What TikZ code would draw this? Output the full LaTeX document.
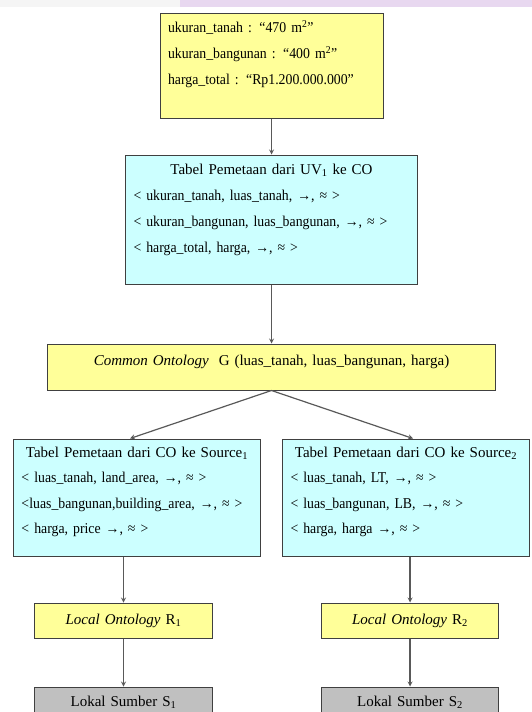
\documentclass[tikz,border=0pt]{standalone}
\usepackage{fontspec}
\setmainfont{Liberation Serif}
\newfontfamily\sempit[FakeStretch=0.92]{Liberation Serif}
\usetikzlibrary{positioning}

\definecolor{boxyellow}{HTML}{FFFF99}
\definecolor{boxcyan}{HTML}{CCFFFF}
\definecolor{boxgrey}{HTML}{C0C0C0}
\definecolor{boxline}{HTML}{404040}
\definecolor{bandlilac}{HTML}{E8D8F0}

\begin{document}
\begin{tikzpicture}[x=1bp, y=1bp, >=stealth,
  every node/.style={draw=boxline, line width=1bp, rectangle, inner xsep=8bp, inner ysep=0bp,
    font=\fontsize{15bp}{26bp}\selectfont},
  databox/.style={fill=boxyellow, text width=207bp, align=left, text height=19bp, text depth=85bp},
  uvbox/.style={fill=boxcyan, text width=276bp, align=left, text height=19bp, text depth=110bp},
  cobox/.style={fill=boxyellow, text width=431bp, align=center, text height=21bp, text depth=25bp},
  srcbox/.style={fill=boxcyan, text width=231bp, align=left, text height=18bp, text depth=99bp,
    font=\fontsize{15bp}{25.5bp}\selectfont},
  ontobox/.style={fill=boxyellow, text width=161bp, align=center, text height=21bp, text depth=14bp},
  sumberbox/.style={fill=boxgrey, text width=161bp, align=center, text height=19bp, text depth=26bp},
  panah/.style={->, draw=black!65, line width=1.2bp}]

  \useasboundingbox (0,0) rectangle (532,-712);

  % Scan band at the top
  \fill[black!4] (0,0) rectangle (180,-7);
  \fill[bandlilac] (180,0) rectangle (532,-7);

  % Nodes
  \node[databox] (data) at (271.5,-66) {\sempit ukuran\_tanah : “470 m\textsuperscript{2}”\\
    ukuran\_bangunan : “400 m\textsuperscript{2}”\\
    harga\_total : “Rp1.200.000.000”};
  \node[uvbox, below=36bp of data] (uv) {\makebox[\linewidth]{Tabel Pemetaan dari UV\textsubscript{1} ke CO}\\
    \sempit < ukuran\_tanah, luas\_tanah, →, ≈ >\\
    < ukuran\_bangunan, luas\_bangunan, →, ≈ >\\
    < harga\_total, harga, →, ≈ >};
  \node[cobox, below=59bp of uv] (co) {\textit{Common Ontology}\ \ G (luas\_tanah, luas\_bangunan, harga)};

  \node[srcbox, below=48bp of co, xshift=-134.5bp] (src1) {\makebox[\linewidth]{Tabel Pemetaan dari CO ke Source\textsubscript{1}}\\
    \sempit < luas\_tanah, land\_area, →, ≈ >\\
    <luas\_bangunan,building\_area, →, ≈ >\\
    < harga, price →, ≈ >};
  \node[srcbox, below=48bp of co, xshift=134.5bp] (src2) {\makebox[\linewidth]{Tabel Pemetaan dari CO ke Source\textsubscript{2}}\\
    \sempit < luas\_tanah, LT, →, ≈ >\\
    < luas\_bangunan, LB, →, ≈ >\\
    < harga, harga →, ≈ >};

  \node[ontobox, below=46bp of src1, xshift=-13.5bp] (lo1) {\textit{Local Ontology} R\textsubscript{1}};
  \node[ontobox, below=46bp of src2, xshift=4bp] (lo2) {\textit{Local Ontology} R\textsubscript{2}};

  \node[sumberbox, below=48bp of lo1] (ls1) {Lokal Sumber S\textsubscript{1}};
  \node[sumberbox, below=48bp of lo2] (ls2) {Lokal Sumber S\textsubscript{2}};

  % Arrows
  \draw[panah] (data) -- (uv);
  \draw[panah] (uv) -- (co);
  \draw[panah] (co.south) -- ([xshift=-7bp]src1.north);
  \draw[panah] (co.south) -- ([xshift=7bp]src2.north);
  \draw[panah] (src1.south -| lo1.north) -- (lo1);
  \draw[panah] (src2.south -| lo2.north) -- (lo2);
  \draw[panah] (lo1) -- (ls1);
  \draw[panah] (lo2) -- (ls2);
\end{tikzpicture}
\end{document}
